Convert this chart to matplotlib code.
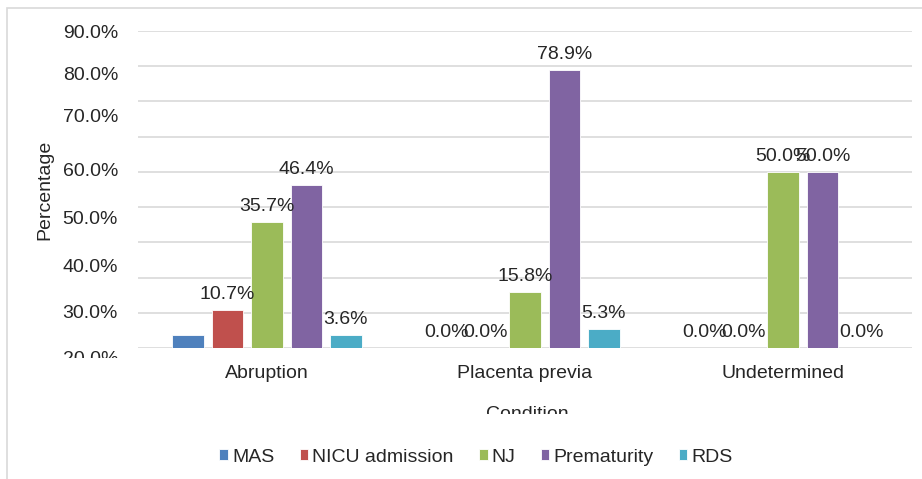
import matplotlib
matplotlib.use('Agg')
import matplotlib.pyplot as plt
import numpy as np
from matplotlib.transforms import Bbox
from matplotlib.patches import Rectangle

plt.rcParams['font.family'] = ['Liberation Sans', 'DejaVu Sans']

# Данные
conditions = ['Abruption', 'Placenta previa', 'Undetermined']
series = ['MAS', 'NICU admission', 'NJ', 'Prematurity', 'RDS']
mas = [3.6, 0.0, 0.0]
nicu = [10.7, 0.0, 0.0]
nj = [35.7, 15.8, 50.0]
prematurity = [46.4, 78.9, 50.0]
rds = [3.6, 5.3, 0.0]
values = [mas, nicu, nj, prematurity, rds]
colors = ['#4F81BD', '#C0504D', '#9BBB59', '#8064A2', '#4BACC6']

# подписи оси Y (в исходнике смещены относительно сетки)
ytick_labels = ['90.0%', '80.0%', '70.0%', '60.0%', '50.0%', '40.0%', '30.0%', '20.0%']
ytick_label_px = [33, 75, 118, 172, 219, 268, 314, 360]

W, H = 922, 479
fs = 14
fig = plt.figure(figsize=(W / 100, H / 100), dpi=100)
ax = fig.add_axes([138 / W, 131 / H, 774 / W, 317 / H])

x = np.arange(len(conditions))
step = 0.153
width = 0.122
text_color = '#262626'

for i, (name, vals, col) in enumerate(zip(series, values, colors)):
    pos = x + (i - 2) * step
    bars = ax.bar(pos, vals, width, color=col, edgecolor='white', linewidth=0.6, label=name, zorder=3)
    for j, (b, v) in enumerate(zip(bars, vals)):
        if name == 'MAS' and j == 0:
            continue  # в исходнике подпись не видна
        ax.annotate(f'{v:.1f}%', (b.get_x() + b.get_width() / 2, v),
                    xytext=(0, 5), textcoords='offset points',
                    ha='center', va='bottom', fontsize=fs, color=text_color, zorder=4)

ax.set_xlim(-0.5, 2.5)
ax.set_ylim(0, 90)
ax.set_yticks(np.arange(0, 91, 10))
ax.set_yticklabels([])
ax.grid(axis='y', color='#D9D9D9', linewidth=1.2, zorder=0)
ax.set_xticks(x)
ax.set_xticklabels(conditions, fontsize=fs, color=text_color)
ax.tick_params(axis='both', length=0)
ax.tick_params(axis='x', pad=12)
for s in ax.spines.values():
    s.set_visible(False)

# смещённые подписи оси Y
for lab, py in zip(ytick_labels, ytick_label_px):
    t = fig.text(118 / W, 1 - py / H, lab, ha='right', va='center', fontsize=fs, color=text_color)
    t.set_clip_box(Bbox.from_extents(0, H - 358, W, H))
    t.set_clip_on(True)

fig.text(45 / W, 1 - 190 / H, 'Percentage', rotation=90, ha='center', va='center',
         fontsize=fs, color=text_color)

# обрезанная подпись оси X
t = fig.text(527 / W, 1 - 406 / H, 'Condition', ha='center', va='top', fontsize=fs, color=text_color)
t.set_clip_box(Bbox.from_extents(0, H - 414, W, H))
t.set_clip_on(True)

# рамка
fig.add_artist(Rectangle((7 / W, -0.1), 2, 1.1 - 8 / H, transform=fig.transFigure,
                         fill=False, edgecolor='#D9D9D9', linewidth=1.2))

fig.legend(loc='center', bbox_to_anchor=(476 / W, 1 - 457 / H), ncol=5, frameon=False,
           fontsize=fs, handlelength=0.45, handleheight=0.45, handletextpad=0.2,
           columnspacing=1.3, labelcolor=text_color)

plt.savefig('out.png', dpi=100)
plt.close()
